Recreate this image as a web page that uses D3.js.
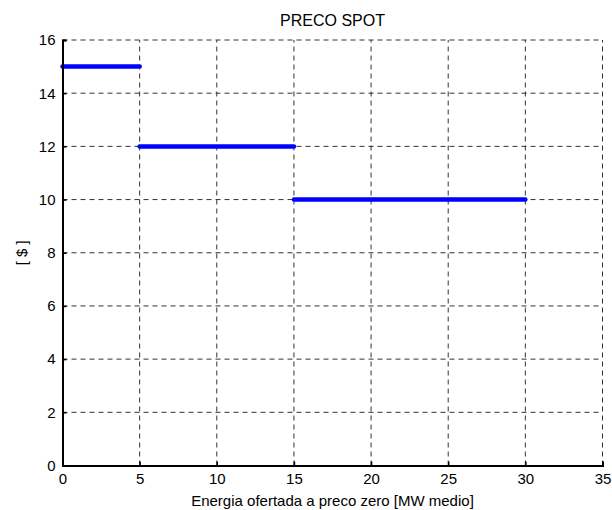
<!DOCTYPE html>
<html><head><meta charset="utf-8">
<script src="https://cdn.jsdelivr.net/npm/d3@7"></script>
<style>body{margin:0;background:#fff}svg{display:block}text{font-family:Arial,"Liberation Sans",sans-serif}</style>
</head><body>
<script>
const xStarts = [0, 5, 15];
const xEnds = [5, 15, 30];
const prices = [15, 12, 10];
const xTicks = [0, 5, 10, 15, 20, 25, 30, 35];
const yTicks = [0, 2, 4, 6, 8, 10, 12, 14, 16];
const title = "PRECO SPOT";
const xLabel = "Energia ofertada a preco zero [MW medio]";
const yLabel = "[ $ ]";

const W = 612, H = 510;
const m = {l: 62.5, r: 9.5, t: 40, b: 44.5};
const FS = 15;
const svg = d3.select("body").append("svg").attr("width", W).attr("height", H);
const x = d3.scaleLinear().domain([0, 35]).range([m.l, W - m.r]);
const y = d3.scaleLinear().domain([0, 16]).range([H - m.b, m.t]);

// grid
const g = svg.append("g");
g.selectAll(".gx").data(xTicks.slice(1)).enter().append("line")
  .attr("x1", d => x(d)).attr("x2", d => x(d)).attr("y1", y(0)).attr("y2", y(16))
  .attr("stroke", "#333").attr("stroke-width", 1).attr("stroke-dasharray", "5,4");
g.selectAll(".gy").data(yTicks.slice(1)).enter().append("line")
  .attr("x1", x(0)).attr("x2", x(35)).attr("y1", d => y(d)).attr("y2", d => y(d))
  .attr("stroke", "#333").attr("stroke-width", 1).attr("stroke-dasharray", "5,4");

// data segments
const segs = prices.map((p, i) => ({x0: xStarts[i], x1: xEnds[i], p}));
svg.selectAll(".seg").data(segs).enter().append("line")
  .attr("x1", d => x(d.x0)).attr("x2", d => x(d.x1))
  .attr("y1", d => y(d.p)).attr("y2", d => y(d.p))
  .attr("stroke", "#0000ff").attr("stroke-width", 4.5).attr("stroke-linecap", "round");

// axes
const xAxis = d3.axisBottom(x).tickValues(xTicks).tickSize(-4).tickPadding(8);
const yAxis = d3.axisLeft(y).tickValues(yTicks).tickSize(-4).tickPadding(7);
const ax = svg.append("g").attr("transform", `translate(0,${y(0)})`).call(xAxis);
const ay = svg.append("g").attr("transform", `translate(${x(0)},0)`).call(yAxis);
[ax, ay].forEach(a => {
  a.select(".domain").attr("stroke", "#000").attr("stroke-width", 2);
  a.selectAll(".tick line").attr("stroke", "#000").attr("stroke-width", 1.5);
  a.selectAll("text").attr("font-size", FS).attr("fill", "#000").style("font-family", "Arial, 'Liberation Sans', sans-serif");
});

svg.append("text").attr("x", (x(0) + x(35)) / 2).attr("y", 26).attr("text-anchor", "middle")
  .attr("font-size", 16).text(title);
svg.append("text").attr("x", (x(0) + x(35)) / 2).attr("y", 505.5).attr("text-anchor", "middle")
  .attr("font-size", FS).text(xLabel);
svg.append("text").attr("transform", `translate(27,${(y(0) + y(16)) / 2}) rotate(-90)`)
  .attr("text-anchor", "middle").attr("font-size", FS).text(yLabel);
</script>
</body></html>
